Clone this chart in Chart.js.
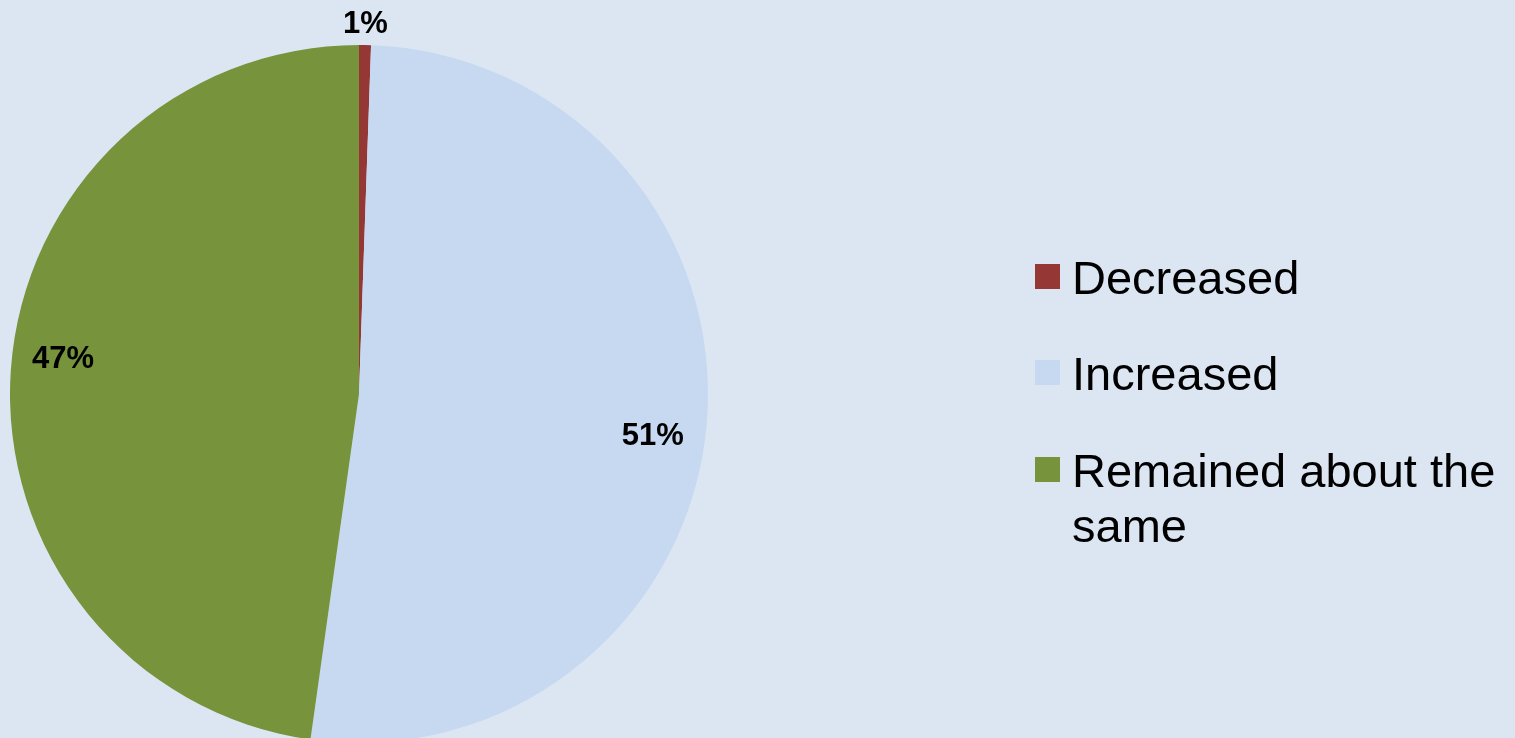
<!DOCTYPE html>
<html>
<head>
<meta charset="utf-8">
<script src="https://cdn.jsdelivr.net/npm/chart.js@4"></script>
<style>
  html, body { margin:0; padding:0; width:1515px; height:738px; overflow:hidden; background:#DCE6F2; }
  #wrap { position:absolute; left:0; top:0; width:1515px; height:790px; }
  #legend { position:absolute; left:1035px; top:0; font-family:"Liberation Sans", Arial, sans-serif; font-size:47px; color:#000; }
  .item { position:absolute; left:0; width:470px; }
  .sw { position:absolute; left:0; width:25px; height:25px; }
  .tx { position:absolute; left:37px; width:440px; line-height:55px; }
</style>
</head>
<body>
<div id="wrap"><canvas id="c" width="1515" height="790"></canvas></div>
<div id="legend"></div>
<script>
// ---- data ----
const categories = ["Decreased", "Increased", "Remained about the same"];
const values = [0.55, 51.67, 47.78];
const percentLabels = ["1%", "51%", "47%"];
const colors = ["#953735", "#C6D9F1", "#77933C"];

// ---- label placement (radius factor + small nudge) ----
const labelPlacement = [
  { r: 1.066, dx: 0, dy: 2 },
  { r: 0.845, dx: 0, dy: 17 },
  { r: 0.85, dx: 0, dy: -14 }
];

const dataLabelPlugin = {
  id: 'dataLabels',
  afterDatasetsDraw(chart) {
    const ctx = chart.ctx;
    const meta = chart.getDatasetMeta(0);
    ctx.save();
    ctx.font = 'bold 31px "Liberation Sans", Arial, sans-serif';
    ctx.fillStyle = '#000';
    ctx.textAlign = 'center';
    ctx.textBaseline = 'middle';
    meta.data.forEach((arc, i) => {
      const p = arc.getProps(['x','y','startAngle','endAngle','outerRadius'], true);
      const mid = (p.startAngle + p.endAngle) / 2;
      const pl = labelPlacement[i];
      const r = p.outerRadius * pl.r;
      ctx.fillText(percentLabels[i], p.x + Math.cos(mid) * r + pl.dx, p.y + Math.sin(mid) * r + pl.dy);
    });
    ctx.restore();
  }
};

const chart = new Chart(document.getElementById('c'), {
  type: 'pie',
  data: {
    labels: categories,
    datasets: [{
      data: values,
      backgroundColor: colors,
      borderWidth: 0,
      hoverOffset: 0
    }]
  },
  options: {
    responsive: false,
    animation: false,
    layout: { padding: { left: 10, top: 45, right: 807, bottom: 47 } },
    plugins: {
      legend: { display: false },
      tooltip: { enabled: false }
    }
  },
  plugins: [dataLabelPlugin]
});

// ---- HTML legend ----
const legendEl = document.getElementById('legend');
const itemTops = [253, 349, 446];
categories.forEach((name, i) => {
  const it = document.createElement('div');
  it.className = 'item';
  it.style.top = itemTops[i] + 'px';
  const sw = document.createElement('div');
  sw.className = 'sw';
  sw.style.top = '11px';
  sw.style.background = colors[i];
  const tx = document.createElement('div');
  tx.className = 'tx';
  tx.style.top = '-3px';
  tx.textContent = name;
  it.appendChild(sw);
  it.appendChild(tx);
  legendEl.appendChild(it);
});
</script>
</body>
</html>
